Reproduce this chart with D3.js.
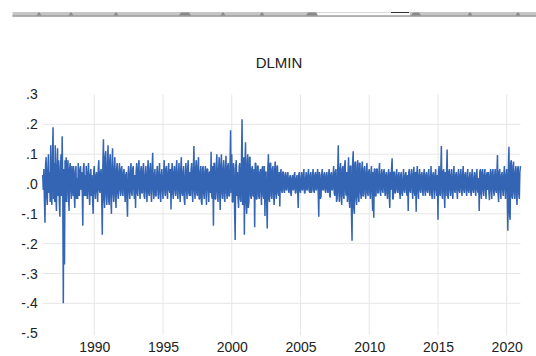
<!DOCTYPE html>
<html><head><meta charset="utf-8">
<script src="https://cdn.jsdelivr.net/npm/d3@7"></script>
<style>
body{margin:0;background:#fff}
svg{display:block}
text{font-family:"Liberation Sans",Arial,sans-serif}
</style>
</head><body><svg id="c" width="536" height="356"></svg>
<script>
const title = "DLMIN";
const startYear = 1986, startMonth = 4; // first observation: 1 Apr 1986, two observations per month (1st, 16th)
const dlmin = [
  .03,-.02,.05,-.05,-.13,.06,.09,-.04,-.07,.05,.10,-.03,.04,-.06,.13,-.02,-.07,.08,             // 1986 Apr-Dec
  .19,-.05,.07,-.06,.13,-.03,-.09,.06,.12,-.04,.08,-.06,-.11,.05,.10,-.04,.16,-.02,-.40,.05,-.27,.08,-.06,.09, // 1987
  -.06,.04,.08,-.03,-.09,.05,.07,-.02,-.05,.06,.03,-.04,.06,-.03,-.08,.04,.06,-.05,.02,-.05,.07,-.03,-.04,.05, // 1988
  .06,-.02,.04,-.03,-.14,.05,.07,-.04,.03,-.04,.06,-.02,-.05,.04,.07,-.03,-.07,.03,.05,-.04,.03,-.05,-.10,.04, // 1989
  .06,-.03,-.05,.03,.04,-.02,-.06,.05,.08,-.02,-.03,.04,.05,-.04,-.17,.06,.15,-.05,-.08,.09,.11,-.04,-.07,.06, // 1990
  .13,-.05,-.07,.08,.10,-.04,-.10,.06,.12,-.03,-.06,.05,.09,-.04,-.08,.05,.07,-.03,-.05,.04,.07,-.02,-.04,.05, // 1991
  .06,-.03,-.04,.04,.05,-.02,-.06,.03,.04,-.05,-.11,.03,.06,-.02,-.05,.04,.07,-.03,-.04,.05,.06,-.02,-.05,.03, // 1992
  -.08,.04,.07,-.03,-.04,.05,.08,-.02,-.05,.04,.06,-.03,-.03,.05,.07,-.04,-.05,.03,.06,-.02,-.06,.04,.08,-.03, // 1993
  -.04,.05,.07,-.03,-.06,.04,.105,-.02,-.05,.03,.05,-.04,-.04,.03,.06,-.02,-.05,.04,.07,-.03,-.06,.03,.05,-.02, // 1994
  -.05,.03,.08,-.02,-.04,.05,.06,-.03,-.05,.04,.07,-.02,-.03,.05,-.085,.04,.07,-.03,-.05,.04,.06,-.02,-.04,.05, // 1995
  .08,-.03,-.05,.04,.07,-.02,-.06,.05,.09,-.03,-.04,.04,.06,-.05,-.07,.03,.07,-.02,-.05,.05,.08,-.03,-.04,.04, // 1996
  -.04,.05,.07,-.03,-.06,.04,.127,-.02,-.05,.05,.08,-.03,-.04,.06,.09,-.05,-.05,.04,.06,-.06,-.07,.05,.06,-.03, // 1997
  -.05,.04,.06,-.03,-.07,.05,.05,-.02,-.06,.04,.04,-.03,.108,-.04,-.05,.06,-.14,.07,.07,-.05,-.05,.06,.10,-.03, // 1998
  -.06,.05,.09,-.04,-.087,.06,.10,-.03,-.05,.05,.08,-.04,-.06,.05,.095,-.03,-.05,.06,.07,-.04,-.04,.06,.18,-.03, // 1999
  .10,-.06,-.06,.07,.05,-.08,-.188,.06,.08,-.04,.04,-.05,-.08,.06,.07,-.05,-.06,.08,.217,-.07,-.05,.09,-.17,.05, // 2000
  .14,-.06,-.10,.07,.10,-.08,-.06,.09,.09,-.04,-.05,.05,.06,-.04,-.04,.05,-.145,.07,.07,-.05,-.05,.06,.06,-.04, // 2001
  -.05,.04,.05,-.03,-.07,.05,.06,-.04,-.05,.06,-.107,.04,.04,-.06,-.149,.05,.10,-.05,-.06,.07,.07,-.04,-.05,.05, // 2002
  .06,-.04,-.07,.05,.075,-.03,-.05,.06,.06,-.03,-.04,.04,-.075,.03,.05,-.02,-.03,.04,.04,-.02,-.03,.03,.04,-.02, // 2003
  -.02,.03,.04,-.02,-.03,.02,.03,-.03,-.04,.02,.03,-.02,-.02,.03,.04,-.03,-.03,.02,.03,-.02,-.08,.03,.04,-.02, // 2004
  -.03,.02,.04,-.02,-.02,.03,.05,-.03,-.03,.02,.04,-.02,-.02,.03,.05,-.02,-.03,.03,.04,-.03,-.02,.03,.05,-.02, // 2005
  -.03,.03,.04,-.02,-.02,.03,.05,-.03,-.11,.04,.03,-.05,-.04,.03,.05,-.02,-.02,.03,.04,-.02,-.03,.03,.04,-.02, // 2006
  -.03,.03,.05,-.04,-.045,.03,.04,-.02,-.02,.03,.06,-.03,-.04,.04,.05,-.06,-.05,.04,.13,-.03,-.06,.05,.07,-.04, // 2007
  -.07,.05,.06,-.04,-.05,.06,.08,-.03,-.04,.04,-.06,.03,.09,-.05,-.08,.06,.06,-.10,-.19,.07,.11,-.08,-.10,.07, // 2008
  .075,-.05,-.07,.06,.08,-.04,-.06,.07,.07,-.03,-.05,.05,.075,-.04,-.04,.05,.06,-.03,-.05,.04,.07,-.03,-.04,.04, // 2009
  .05,-.03,-.05,.04,.06,-.02,-.09,.04,-.113,.05,.05,-.04,-.04,.05,.05,-.03,-.03,.04,.07,-.02,-.04,.03,.05,-.02, // 2010
  -.03,.04,.05,-.02,-.04,.03,.04,-.03,-.05,.03,.05,-.04,-.08,.04,-.02,.05,.086,-.05,-.05,.04,.04,-.03,-.03,.03, // 2011
  .05,-.02,-.03,.03,.04,-.02,-.05,.03,.04,-.03,-.04,.02,.05,-.02,-.03,.03,.04,-.02,-.04,.03,-.09,.04,.05,-.02, // 2012
  -.03,.03,.05,-.02,-.05,.03,.058,-.03,-.04,.04,-.093,.03,.06,-.02,-.05,.03,.05,-.02,-.03,.03,.04,-.02,-.04,.03, // 2013
  .05,-.02,-.04,.03,.04,-.02,-.03,.03,.05,-.02,-.04,.02,.06,-.03,-.05,.03,.04,-.02,-.05,.03,.05,-.02,-.04,.03, // 2014
  -.12,.04,.06,-.03,-.04,.04,.127,-.03,-.05,.04,.05,-.03,-.08,.04,-.04,.03,.116,-.04,-.05,.04,.05,-.02,-.04,.03, // 2015
  .05,-.03,-.05,.03,.06,-.02,-.03,.03,.04,-.02,-.05,.03,.05,-.02,-.03,.03,.05,-.02,-.04,.03,.06,-.02,-.03,.03, // 2016
  .04,-.02,-.04,.03,.05,-.02,-.03,.02,.04,-.02,-.04,.03,.05,-.02,-.03,.02,.04,-.02,-.04,.03,.05,-.02,-.03,.02, // 2017
  -.09,.04,.05,-.03,-.05,.04,.05,-.02,-.04,.03,.05,-.02,-.05,.03,.04,-.02,.04,-.03,-.054,.03,.05,-.02,-.05,.04, // 2018
  .05,-.02,-.04,.03,.05,-.02,-.03,.04,.097,-.03,-.06,.04,.05,-.02,-.05,.03,.04,-.02,-.04,.03,.06,-.02,-.05,.03, // 2019
  .05,-.03,-.157,.06,.125,-.10,-.12,.07,.08,-.04,-.05,.06,.075,-.03,-.05,.04,.06,-.04,-.07,.05,.06,-.03,-.05,.04, // 2020
  .06                                                                                          // 2021 Jan
];
const yTicks = [.3,.2,.1,0,-.1,-.2,-.3,-.4,-.5];
const yTickLabels = [".3",".2",".1",".0","-.1","-.2","-.3","-.4","-.5"];
const yGrid = [.2,.1,0,-.1,-.2,-.3,-.4];
const xTicks = [1990,1995,2000,2005,2010,2015,2020];
// leftover strip of a previous graph at the top of the picture
const stripMarks = [[39,3],[71,3],[116,3],[185,10],[223,3],[262,3],[312,10],[416,8],[470,3],[518,3]];

const svg = d3.select("#c");
const start = new Date(startYear, startMonth-1, 1);
const data = dlmin.map((v,i)=>{
  const m = d3.timeMonth.offset(start, Math.floor(i/2));
  return {date: i%2 ? d3.timeDay.offset(m,15) : m, v};
});

const x = d3.scaleTime().domain([new Date(1990,0,1), new Date(2020,0,1)]).range([94.3, 506.7]);
const y = d3.scaleLinear().domain([-.5,.3]).range([333.2, 94.5]);
const x0 = x(data[0].date), x1 = x(data[data.length-1].date);

// top strip
const strip = svg.append("g");
strip.append("rect").attr("x",12.5).attr("y",12).attr("width",524).attr("height",4.5).attr("fill","#c6c6c6");
strip.append("rect").attr("x",12.5).attr("y",15.3).attr("width",524).attr("height",1.4).attr("fill","#9a9a9a");
strip.append("rect").attr("x",317).attr("y",12.6).attr("width",93).attr("height",2.6).attr("fill","#fbfbfb");
strip.append("rect").attr("x",391).attr("y",12).attr("width",18).attr("height",1).attr("fill","#333");
strip.selectAll("path.m").data(stripMarks).join("path")
  .attr("d",d=>`M${d[0]-d[1]/2-1},15.5 L${d[0]-d[1]/2+1},12.5 L${d[0]+d[1]/2-1},12.5 L${d[0]+d[1]/2+1},15.5 Z`)
  .attr("fill","#8a8a8a");

// grid
svg.append("g").selectAll("line").data(yGrid).join("line")
  .attr("x1",x0).attr("x2",x1).attr("y1",d=>y(d)).attr("y2",d=>y(d))
  .attr("stroke","#e6e6e6").attr("stroke-width",1);
svg.append("g").selectAll("line").data(xTicks).join("line")
  .attr("x1",d=>x(new Date(d,0,1))).attr("x2",d=>x(new Date(d,0,1)))
  .attr("y1",y(.3)).attr("y2",y(-.5)+2)
  .attr("stroke","#e6e6e6").attr("stroke-width",1);

// series
svg.append("path").datum(data)
  .attr("d",d3.line().x(d=>x(d.date)).y(d=>y(d.v)))
  .attr("fill","none").attr("stroke","#3465b4").attr("stroke-width",1.5)
  .attr("stroke-linejoin","bevel");

// axes
const ya = svg.append("g").attr("transform",`translate(${x0},0)`)
  .call(d3.axisLeft(y).tickValues(yTicks).tickFormat((d,i)=>yTickLabels[i]).tickSize(0).tickPadding(5));
const xa = svg.append("g").attr("transform",`translate(0,342)`)
  .call(d3.axisBottom(x).tickValues(xTicks.map(d=>new Date(d,0,1))).tickFormat(d3.timeFormat("%Y")).tickSize(0).tickPadding(0));
[ya,xa].forEach(a=>{a.select(".domain").remove();a.selectAll("text").attr("font-size",14).attr("fill","#222").attr("font-family","Liberation Sans, Arial, sans-serif");});

svg.append("text").attr("x",279).attr("y",67.5).attr("text-anchor","middle")
  .attr("font-size",15).attr("fill","#222").text(title);
</script></body></html>
